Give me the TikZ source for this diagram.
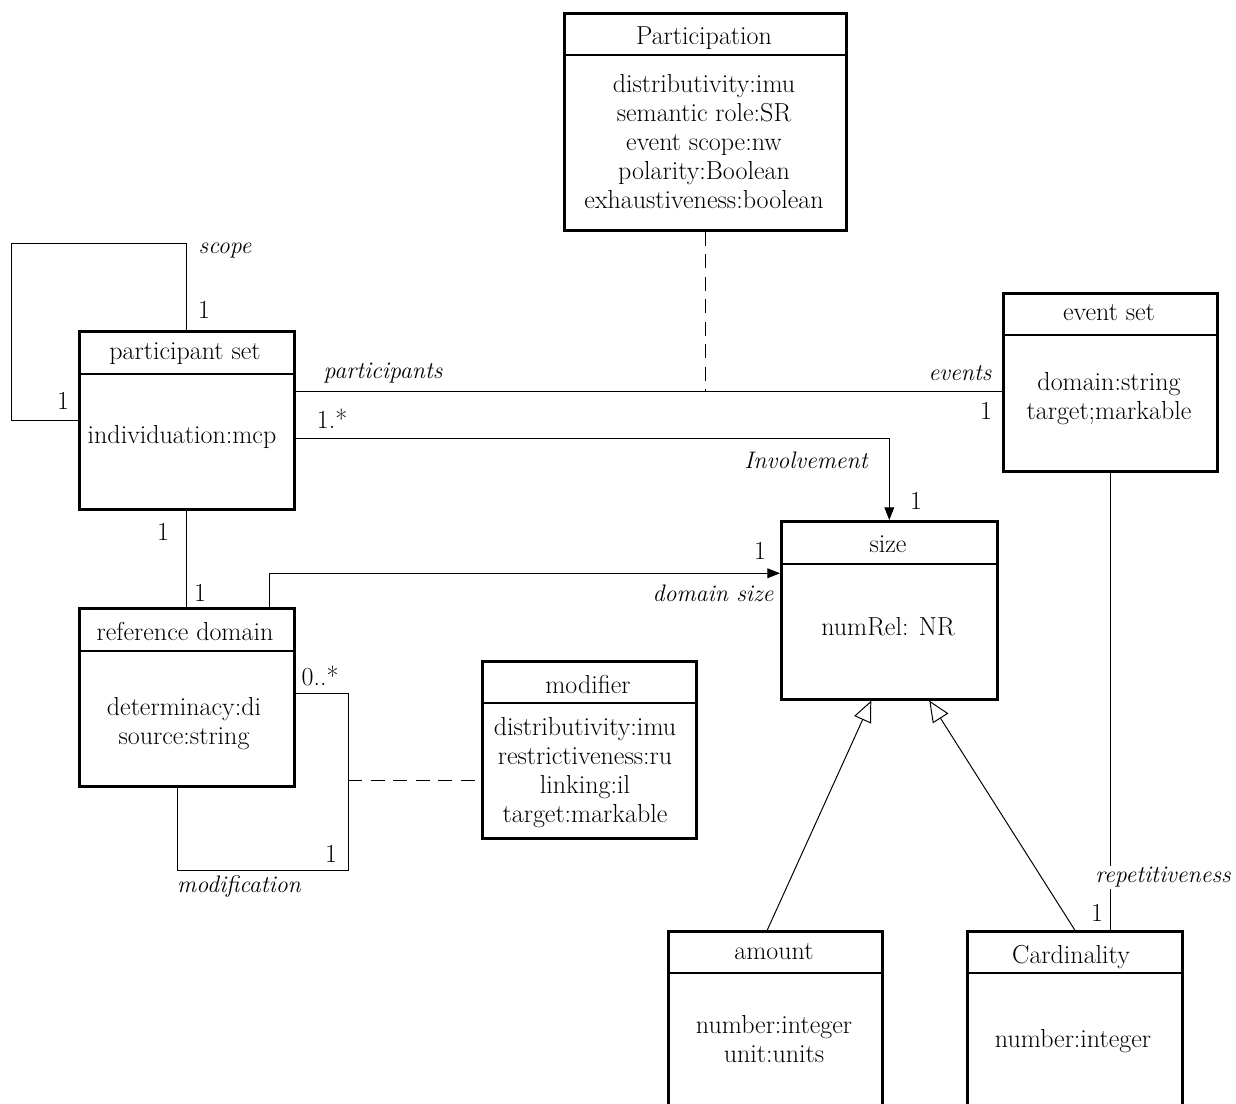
\documentclass[tikz,border=0pt]{standalone}
\usepackage{fontspec}
\usepackage{tikz}
\usetikzlibrary{arrows.meta, positioning, calc}

\begin{document}
\begin{tikzpicture}[
    x=0.025cm, y=-0.025cm,
    every node/.style={font=\fontsize{18.5}{20.6}\selectfont},
    cls/.style={draw, line width=1.8pt, anchor=north west, inner sep=0pt},
    ttl/.style={inner sep=0pt},
    attr/.style={align=center, inner sep=0pt},
    sep/.style={line width=0.8pt},
    role/.style={font=\fontsize{17}{20.6}\selectfont\itshape, inner sep=0pt},
    mult/.style={inner sep=0pt},
    link/.style={line width=0.7pt},
    arrow/.style={link, -{Triangle[length=9pt, width=7pt]}},
    gen/.style={link, -{Triangle[open, length=15pt, width=13pt]}},
    dashlink/.style={link, dash pattern=on 10pt off 6pt}
]
    \clip (0,0) rectangle (1236,1104);

    % Participation
    \node[cls, minimum width=7.05cm, minimum height=5.425cm] (part) at (563,12) {};
    \draw[sep] ([yshift=-1.075cm]part.north west) -- ([yshift=-1.075cm]part.north east);
    \node[ttl] (partT) at (704,38) {Participation};
    \node[attr] (partA) at (704,142) {distributivity:imu\\semantic role:SR\\event scope:nw\\polarity:Boolean\\exhaustiveness:boolean};

    % participant set
    \node[cls, minimum width=5.375cm, minimum height=4.45cm] (pset) at (78,330) {};
    \draw[sep] ([yshift=-1.1cm]pset.north west) -- ([yshift=-1.1cm]pset.north east);
    \node[ttl] (psetT) at (185,354) {participant set};
    \node[attr] (psetA) at (182,437) {individuation:mcp};

    % event set
    \node[cls, minimum width=5.35cm, minimum height=4.45cm] (eset) at (1002,292) {};
    \draw[sep] ([yshift=-1.075cm]eset.north west) -- ([yshift=-1.075cm]eset.north east);
    \node[ttl] (esetT) at (1109,313) {event set};
    \node[attr] (esetA) at (1109,398.5) {domain:string\\target;markable};

    % size
    \node[cls, minimum width=5.4cm, minimum height=4.45cm] (size) at (780,520) {};
    \draw[sep] ([yshift=-1.1cm]size.north west) -- ([yshift=-1.1cm]size.north east);
    \node[ttl] (sizeT) at (888,544) {size};
    \node[attr] (sizeA) at (888,627) {numRel: NR};

    % reference domain
    \node[cls, minimum width=5.375cm, minimum height=4.45cm] (refdom) at (78,607) {};
    \draw[sep] ([yshift=-1.1cm]refdom.north west) -- ([yshift=-1.1cm]refdom.north east);
    \node[ttl] (refdomT) at (185,631) {reference domain};
    \node[attr] (refdomA) at (184,723.5) {determinacy:di\\source:string};

    % modifier
    \node[cls, minimum width=5.35cm, minimum height=4.425cm] (modif) at (481,660) {};
    \draw[sep] ([yshift=-1.075cm]modif.north west) -- ([yshift=-1.075cm]modif.north east);
    \node[ttl] (modifT) at (588,684) {modifier};
    \node[attr] (modifA) at (585,773) {distributivity:imu\\restrictiveness:ru\\linking:il\\target:markable};

    % amount
    \node[cls, minimum width=5.35cm, minimum height=4.75cm] (amount) at (667,930) {};
    \draw[sep] ([yshift=-1.075cm]amount.north west) -- ([yshift=-1.075cm]amount.north east);
    \node[ttl] (amountT) at (774,952) {amount};
    \node[attr] (amountA) at (774,1039) {number:integer\\unit:units};

    % Cardinality
    \node[cls, minimum width=5.375cm, minimum height=4.75cm] (card) at (966,930) {};
    \draw[sep] ([yshift=-1.075cm]card.north west) -- ([yshift=-1.075cm]card.north east);
    \node[ttl] (cardT) at (1071,957) {Cardinality};
    \node[attr] (cardA) at (1073,1041) {number:integer};

    % scope (self association)
    \coordinate (scopecorner) at (11,243);
    \draw[link] (pset.north) |- (scopecorner) |- (pset.west);
    \node[role] (scopeL) at (225,251) {scope};
    \node[mult] (scopeM1) at (204,310) {1};
    \node[mult] (scopeM2) at (63,401) {1};

    % participants / events
    \coordinate (assoc) at (705,391);
    \draw[link] (pset.east |- assoc) -- (eset.west |- assoc);
    \draw[dashlink] (part.south -| assoc) -- (assoc);
    \node[role] (partL) at (383,373) {participants};
    \node[role] (evL) at (960,373) {events};
    \node[mult] (evM) at (986,411) {1};

    % Involvement
    \draw[arrow] ([yshift=-0.45cm]pset.east) -| (size.north);
    \node[mult] (invM1) at (332,419) {1.*};
    \node[role] (invL) at (806,460) {Involvement};
    \node[mult] (invM2) at (916,501) {1};

    % participant set -- reference domain
    \draw[link] (pset.south) -- (refdom.north);
    \node[mult] (prM1) at (163,532) {1};
    \node[mult] (prM2) at (200,593) {1};

    % domain size
    \draw[arrow] ([xshift=2.06cm]refdom.north) |- ([yshift=0.925cm]size.west);
    \node[mult] (dsM) at (760,551) {1};
    \node[role] (dsL) at (713,593) {domain size};

    % modification (self association)
    \coordinate (modcorner) at (348,870);
    \coordinate (modlink) at (348,780);
    \draw[link] ([yshift=0.1cm]refdom.east) -| (modcorner) -| ([xshift=-0.24cm]refdom.south);
    \draw[dashlink] (modlink) -- (modif.west |- modlink);
    \node[mult] (modM1) at (320,676) {0..*};
    \node[mult] (modM2) at (331,854) {1};
    \node[role] (modL) at (239,887) {modification};

    % generalisation
    \draw[gen] ([xshift=-0.2cm]amount.north) -- ([xshift=-0.45cm]size.south);
    \draw[gen] (card.north) -- ([xshift=1cm]size.south);

    % repetitiveness
    \draw[link] (eset.south) -- (eset.south |- card.north);
    \node[role, fill=white, inner sep=1pt] (repL) at (1163,877) {repetitiveness};
    \node[mult] (repM) at (1097,913) {1};

\end{tikzpicture}
\end{document}
